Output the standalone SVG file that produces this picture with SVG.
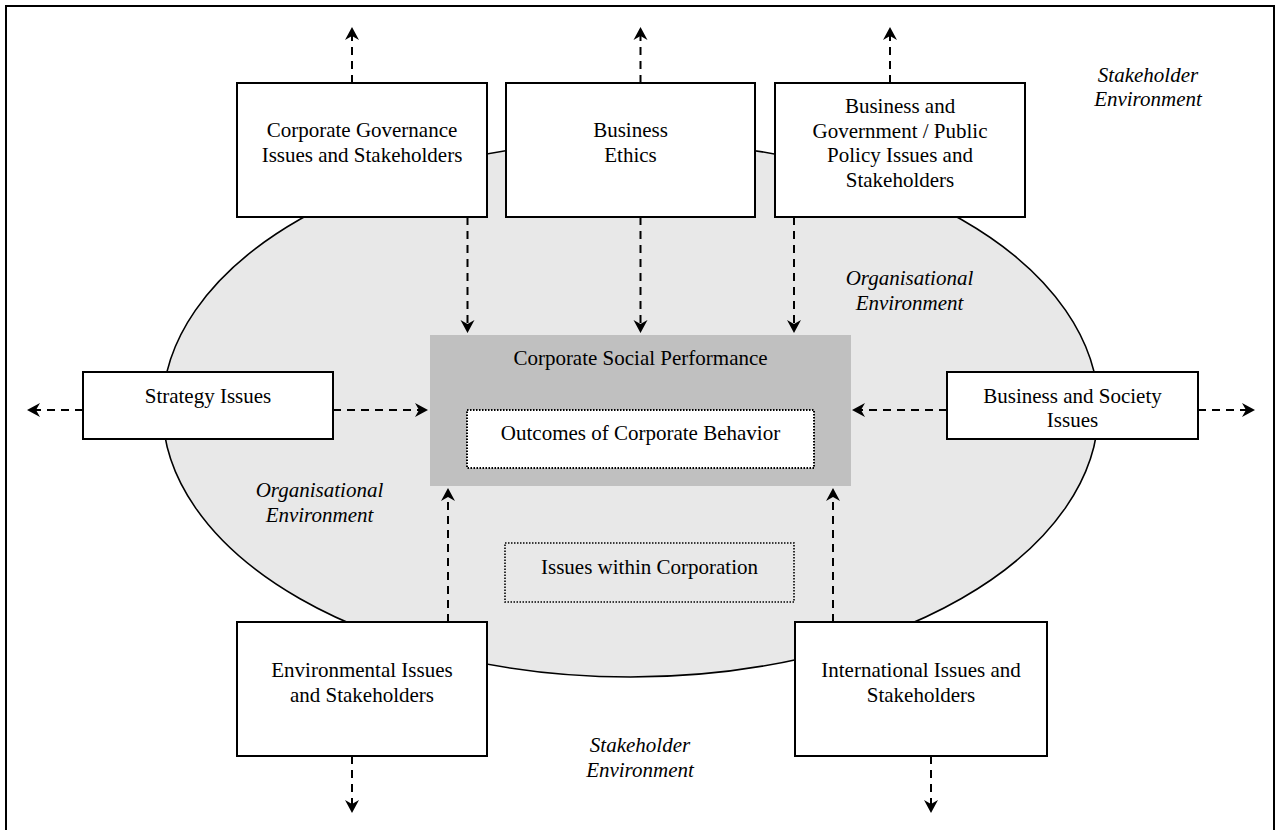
<svg xmlns="http://www.w3.org/2000/svg" width="1281" height="830" viewBox="0 0 1281 830">
  <style>
    .frame { fill: #ffffff; stroke: #000000; stroke-width: 2; }
    .env { fill: #e8e8e8; stroke: #000000; stroke-width: 1.6; }
    .box { fill: #ffffff; stroke: #000000; stroke-width: 2; }
    .core { fill: #c0c0c0; stroke: none; }
    .dotted { fill: #ffffff; stroke: #000000; stroke-width: 2; stroke-dasharray: 1.5 1.5; }
    .dotted-clear { fill: none; stroke: #000000; stroke-width: 1.6; stroke-dasharray: 1.5 1.5; }
    .label { font-family: "Liberation Serif", "Times New Roman", serif; font-size: 21px; fill: #000000; text-anchor: middle; }
    .italic { font-style: italic; }
    .link { fill: none; stroke: #000000; stroke-width: 2; stroke-dasharray: 8 6; marker-end: url(#head); }
  </style>
  <defs>
    <marker id="head" viewBox="-12 -8 18 16" refX="0" refY="0" markerWidth="18" markerHeight="16" markerUnits="userSpaceOnUse" orient="auto">
      <path d="M4,0 L-9,-7 L-5,0 L-9,7 Z" fill="#000000"/>
    </marker>
  </defs>

  <!-- outer stakeholder environment frame -->
  <rect class="frame" x="6" y="6" width="1268" height="840"/>

  <!-- organisational environment -->
  <ellipse class="env" cx="630.5" cy="409" rx="468" ry="268"/>

  <g id="stakeholder-env-top">
    <text class="label italic" x="1148" y="82">Stakeholder</text>
    <text class="label italic" x="1148" y="106">Environment</text>
  </g>
  <g id="org-env-right">
    <text class="label italic" x="909.5" y="285">Organisational</text>
    <text class="label italic" x="909.5" y="310">Environment</text>
  </g>
  <g id="org-env-left">
    <text class="label italic" x="319.5" y="497">Organisational</text>
    <text class="label italic" x="319.5" y="522">Environment</text>
  </g>
  <g id="stakeholder-env-bottom">
    <text class="label italic" x="640" y="752">Stakeholder</text>
    <text class="label italic" x="640" y="777">Environment</text>
  </g>

  <g id="corporate-governance">
    <rect class="box" x="237" y="83" width="250" height="134"/>
    <text class="label" x="362" y="137">Corporate Governance</text>
    <text class="label" x="362" y="162">Issues and Stakeholders</text>
  </g>
  <g id="business-ethics">
    <rect class="box" x="506" y="83" width="249" height="134"/>
    <text class="label" x="630.5" y="137">Business</text>
    <text class="label" x="630.5" y="162">Ethics</text>
  </g>
  <g id="business-government">
    <rect class="box" x="775" y="83" width="250" height="134"/>
    <text class="label" x="900" y="112.5">Business and</text>
    <text class="label" x="900" y="137.5">Government / Public</text>
    <text class="label" x="900" y="162">Policy Issues and</text>
    <text class="label" x="900" y="187">Stakeholders</text>
  </g>
  <g id="strategy-issues">
    <rect class="box" x="83" y="372" width="250" height="67"/>
    <text class="label" x="208" y="403">Strategy Issues</text>
  </g>
  <g id="business-society">
    <rect class="box" x="947" y="372" width="251" height="67"/>
    <text class="label" x="1072.5" y="403">Business and Society</text>
    <text class="label" x="1072.5" y="427">Issues</text>
  </g>
  <g id="corporate-social-performance">
    <rect class="core" x="430" y="335" width="421" height="151"/>
    <text class="label" x="640.5" y="365">Corporate Social Performance</text>
  </g>
  <g id="outcomes">
    <rect class="dotted" x="467" y="410" width="347" height="58"/>
    <text class="label" x="640.5" y="440">Outcomes of Corporate Behavior</text>
  </g>
  <g id="issues-within">
    <rect class="dotted-clear" x="505" y="543" width="289" height="59"/>
    <text class="label" x="649.5" y="574">Issues within Corporation</text>
  </g>
  <g id="environmental-issues">
    <rect class="box" x="237" y="622" width="250" height="134"/>
    <text class="label" x="362" y="677">Environmental Issues</text>
    <text class="label" x="362" y="702">and Stakeholders</text>
  </g>
  <g id="international-issues">
    <rect class="box" x="795" y="622" width="252" height="134"/>
    <text class="label" x="921" y="677">International Issues and</text>
    <text class="label" x="921" y="702">Stakeholders</text>
  </g>

  <g id="connectors">
    <!-- outward to stakeholder environment -->
    <line class="link" x1="352" y1="83" x2="352" y2="31"/>
    <line class="link" x1="640.5" y1="83" x2="640.5" y2="31"/>
    <line class="link" x1="890" y1="83" x2="890" y2="31"/>
    <line class="link" x1="83" y1="410" x2="31" y2="410"/>
    <line class="link" x1="1198" y1="410" x2="1251" y2="410"/>
    <line class="link" x1="352" y1="756" x2="352" y2="809"/>
    <line class="link" x1="931" y1="756" x2="931" y2="809"/>
    <!-- inward to corporate social performance -->
    <line class="link" x1="467.5" y1="217" x2="467.5" y2="329"/>
    <line class="link" x1="640.5" y1="217" x2="640.5" y2="329"/>
    <line class="link" x1="794" y1="217" x2="794" y2="329"/>
    <line class="link" x1="333" y1="410" x2="424" y2="410"/>
    <line class="link" x1="947" y1="410" x2="856" y2="410"/>
    <line class="link" x1="448" y1="622" x2="448" y2="492"/>
    <line class="link" x1="833" y1="622" x2="833" y2="492"/>
  </g>
</svg>
